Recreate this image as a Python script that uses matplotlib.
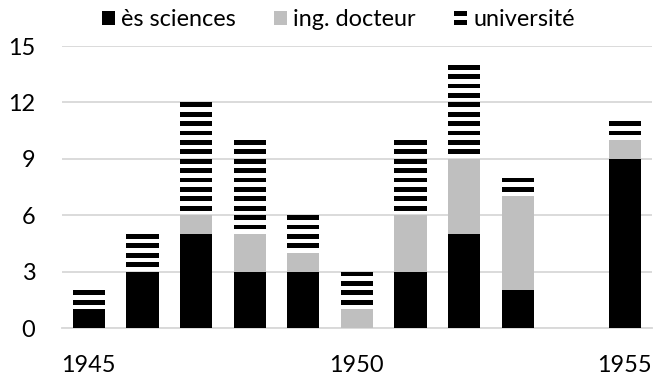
import matplotlib
matplotlib.use("Agg")
import matplotlib.pyplot as plt
from matplotlib.patches import Patch, Rectangle
from matplotlib.legend_handler import HandlerBase
import numpy as np

years = [1945, 1946, 1947, 1948, 1949, 1950, 1951, 1952, 1953, 1954, 1955]
es_sciences = [1, 3, 5, 3, 3, 0, 3, 5, 2, 0, 9]
ing_docteur = [0, 0, 1, 2, 1, 1, 3, 4, 5, 0, 1]
universite = [1, 2, 6, 5, 2, 2, 4, 5, 1, 0, 1]
series_labels = ["ès sciences", "ing. docteur", "université"]
y_ticks = [0, 3, 6, 9, 12, 15]
x_tick_years = [1945, 1950, 1955]

DPI = 113
plt.rcParams["font.family"] = ["Lato", "DejaVu Sans"]

fig = plt.figure(figsize=(653 / DPI, 375 / DPI), dpi=DPI)
ax = fig.add_axes([0.095, 0.1253, 0.903, 0.752])

x = np.arange(len(years))
w = 0.6
sci = np.array(es_sciences, dtype=float)
ing = np.array(ing_docteur, dtype=float)
uni = np.array(universite, dtype=float)

ax.bar(x, sci, w, color="black", linewidth=0, zorder=3)
ax.bar(x, ing, w, bottom=sci, color="#bfbfbf", linewidth=0, zorder=3)

# "université" segment: black horizontal stripes, two per unit, from the top down
stripe_period = 0.5
stripe_thick = 0.25
tops = sci + ing + uni
sx, sb = [], []
for i in range(len(years)):
    for k in range(int(round(uni[i] / stripe_period))):
        sx.append(x[i])
        sb.append(tops[i] - k * stripe_period - stripe_thick)
ax.bar(sx, stripe_thick, w, bottom=sb, color="black", linewidth=0, zorder=3)

ax.set_xlim(-0.5, len(years) - 0.5)
ax.set_ylim(0, 15)
ax.set_yticks(y_ticks)
ax.set_yticklabels([str(t) for t in y_ticks])
ax.set_xticks([years.index(yr) for yr in x_tick_years])
ax.set_xticklabels([str(yr) for yr in x_tick_years])

ax.grid(axis="y", color="#d9d9d9", linewidth=1.2, zorder=0)
for side in ["top", "right", "left"]:
    ax.spines[side].set_visible(False)
ax.spines["bottom"].set_color("#d9d9d9")
ax.spines["bottom"].set_linewidth(1.2)
ax.tick_params(axis="both", length=0, labelsize=15, colors="black")
ax.tick_params(axis="y", pad=17)
ax.tick_params(axis="x", pad=17)


class StripeHandler(HandlerBase):
    def create_artists(self, legend, orig_handle, xdescent, ydescent,
                       width, height, fontsize, trans):
        t = height * 0.36
        r1 = Rectangle((-xdescent, -ydescent + height - t), width, t,
                       facecolor="black", linewidth=0, transform=trans)
        r2 = Rectangle((-xdescent, -ydescent), width, t,
                       facecolor="black", linewidth=0, transform=trans)
        return [r1, r2]


class StripeKey:
    pass


handles = [
    Patch(facecolor="black", linewidth=0),
    Patch(facecolor="#bfbfbf", linewidth=0),
    StripeKey(),
]
fig.legend(handles=handles, labels=series_labels, loc="center",
           bbox_to_anchor=(0.518, 0.947), ncol=3, frameon=False, fontsize=15,
           handlelength=0.55, handleheight=0.55, handletextpad=0.25,
           columnspacing=1.65, handler_map={StripeKey: StripeHandler()})

fig.savefig("out.png", dpi=DPI)
